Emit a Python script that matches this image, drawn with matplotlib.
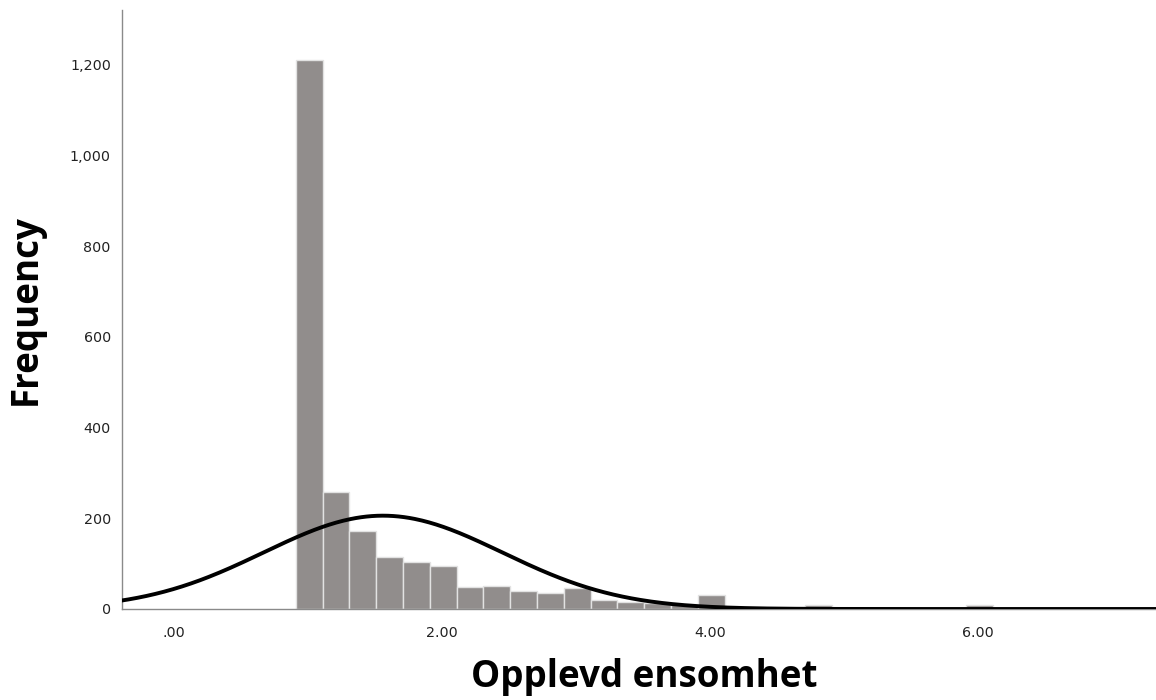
import numpy as np
import matplotlib
matplotlib.use("Agg")
import matplotlib.pyplot as plt
from matplotlib.ticker import FuncFormatter

# histogram bins (bin width 0.2, first edge ~0.91)
BIN_START = 0.91
BIN_WIDTH = 0.2
counts = [1210, 257, 173, 114, 103, 94, 48, 50, 39, 36, 46, 20, 16, 13, 11, 31,
          5, 3, 2, 9, 2, 1, 2, 1, 1, 8]

# normal curve overlay (SPSS style)
MEAN = 1.56
SD = 0.89

x_ticks = [0, 2, 4, 6]
y_ticks = [0, 200, 400, 600, 800, 1000, 1200]

edges = BIN_START + BIN_WIDTH * np.arange(len(counts))

fig = plt.figure(figsize=(11.56, 7.0), dpi=100)
ax = fig.add_axes([0.1055, 0.13, 0.8945, 0.856])

ax.bar(edges, counts, width=BIN_WIDTH, align="edge", color="#918d8c",
       edgecolor="#e2e2e2", linewidth=1.0, zorder=2)

xs = np.linspace(-0.5, 7.5, 600)
n = sum(counts)
ys = n * BIN_WIDTH / (SD * np.sqrt(2 * np.pi)) * np.exp(-0.5 * ((xs - MEAN) / SD) ** 2)
ax.plot(xs, ys, color="black", linewidth=2.8, zorder=3, solid_capstyle="butt")

ax.set_xlim(-0.388, 7.33)
ax.set_ylim(0, 1321)
ax.set_xticks(x_ticks)
ax.set_yticks(y_ticks)

def fmt_x(v, pos):
    s = f"{v:.2f}"
    return s[1:] if s.startswith("0") else s

ax.xaxis.set_major_formatter(FuncFormatter(fmt_x))
ax.yaxis.set_major_formatter(FuncFormatter(lambda v, p: f"{int(v):,}"))
ax.tick_params(axis="both", length=0, labelsize=10.3, colors="#222222")
ax.tick_params(axis="x", pad=12)
ax.tick_params(axis="y", pad=8)

for side in ["top", "right"]:
    ax.spines[side].set_visible(False)
for side in ["left", "bottom"]:
    ax.spines[side].set_color("#8a8a8a")
    ax.spines[side].set_linewidth(1.0)

ax.set_xlabel("Opplevd ensomhet", fontsize=26.5, fontweight="bold",
              family=["Open Sans", "DejaVu Sans"])
ax.set_ylabel("Frequency", fontsize=26.5, fontweight="bold",
              family=["Open Sans", "DejaVu Sans"])
ax.xaxis.set_label_coords(0.505, -0.082)
ax.yaxis.set_label_coords(-0.075, 0.5)

plt.savefig("out.png", dpi=100)
